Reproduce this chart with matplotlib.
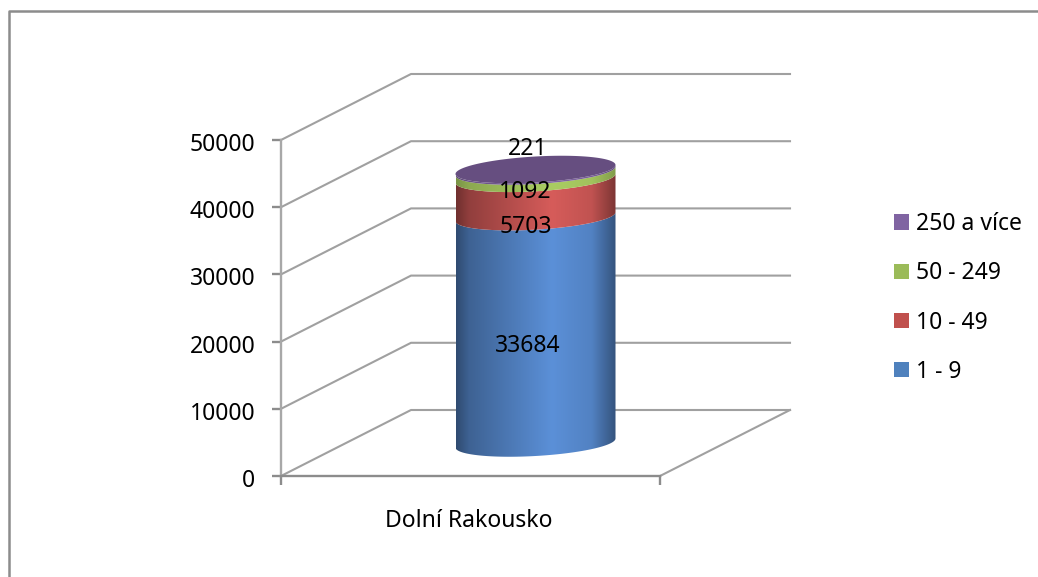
#!/usr/bin/env python
import numpy as np
import matplotlib
matplotlib.use('Agg')
import matplotlib.pyplot as plt
from matplotlib.patches import Patch, Polygon
from matplotlib.transforms import ScaledTranslation

category = 'Dolní Rakousko'
series_names = ['1 - 9', '10 - 49', '50 - 249', '250 a více']
series_values = [33684, 5703, 1092, 221]
y_ticks = [0, 10000, 20000, 30000, 40000, 50000]

W, H = 1038, 577
GREY = '#8c8c8c'
GRID = '#a0a0a0'
side_colors = ['#5b90d8', '#d65c5a', '#aacd62', '#7f63a1']
legend_colors = ['#4f81bd', '#c0504d', '#9bbb59', '#8064a2']
top_color = '#664e80'

plt.rcParams['font.family'] = ['Noto Sans', 'DejaVu Sans']
plt.rcParams['font.size'] = 16.5

fig = plt.figure(figsize=(W / 100, H / 100), dpi=100)
# front plane of the fake 3d box
left, right, top, bottom = 281, 660, 140, 476
ax = fig.add_axes([left / W, 1 - bottom / H, (right - left) / W, (bottom - top) / H])
ax.set_xlim(0, 1)
ax.set_ylim(0, 50000)

px_x = 1 / (right - left)
px_y = 50000 / (bottom - top)
depth_x = 130 * px_x
depth_y = 66 * px_y

# chart border, only top and left are in the picture
fig.add_artist(plt.Line2D([9 / W, 9 / W, 1], [0, 1 - 11 / H, 1 - 11 / H], color=GREY, lw=1.8))

# walls
for v in y_ticks:
    ax.plot([0, depth_x, 1 + depth_x], [v, v + depth_y, v + depth_y], color=GRID, lw=1.5,
            clip_on=False, zorder=1)
ax.plot([1, 1 + depth_x], [0, depth_y], color=GRID, lw=1.5, clip_on=False, zorder=1)

for s in ['top', 'right']:
    ax.spines[s].set_visible(False)
for s in ['left', 'bottom']:
    ax.spines[s].set_color(GREY)
    ax.spines[s].set_linewidth(1.7)
ax.spines['left'].set_color('#a8a8a8')
ax.set_yticks(y_ticks)
ax.set_xticks([0.5])
ax.set_xticklabels([category])
ax.set_xticks([0, 1], minor=True)
ax.tick_params(axis='y', length=6.5, width=1.7, color=GREY, pad=12)
ax.tick_params(axis='x', which='major', length=0, pad=24)
ax.tick_params(axis='x', which='minor', length=6.5, width=1.7, color=GREY)
ax.patch.set_alpha(0)

# nudge tick labels a bit down and left
shift_y = ScaledTranslation(0, -2 / 100, fig.dpi_scale_trans)
for lab in ax.get_yticklabels():
    lab.set_transform(lab.get_transform() + shift_y)
shift_x = ScaledTranslation(-2 / 100, 0, fig.dpi_scale_trans)
for lab in ax.get_xticklabels():
    lab.set_transform(lab.get_transform() + shift_x)

# cylinder
cx = 0.5 + depth_x / 2
rx = 80 * px_x
ry = 13 * px_y
tilt = 4.5 * px_y
base = depth_y / 2


def rim(value, t):
    return cx + rx * np.cos(t), base + value + ry * np.sin(t) + tilt * np.cos(t)


shade = np.interp(np.linspace(0, 1, 200), [0, 0.08, 0.6, 0.85, 1], [0.52, 0.68, 1, 0.9, 0.58])
front = np.linspace(np.pi, 2 * np.pi, 100)
levels = np.concatenate([[0], np.cumsum(series_values)])

for i in range(len(series_values)):
    x0, y0 = rim(levels[i], front)
    x1, y1 = rim(levels[i + 1], front)
    outline = np.column_stack([np.r_[x0, x1[::-1]], np.r_[y0, y1[::-1]]])
    rgb = np.array(matplotlib.colors.to_rgb(side_colors[i]))
    # the thin rings keep their colour right up to the edges
    sh = np.sqrt(shade) if i >= 2 else shade
    img = sh[None, :, None] * rgb
    im = ax.imshow(img, extent=[cx - rx, cx + rx, 0, levels[-1] + depth_y], aspect='auto', zorder=3 + i)
    clip = Polygon(outline, closed=True, transform=ax.transData, fc='none', ec='none')
    im.set_clip_path(clip)

around = np.linspace(0, 2 * np.pi, 200)
xt, yt = rim(levels[-1], around)
ax.fill(xt, yt, color=top_color, zorder=8, lw=0)
ax.set_xlim(0, 1)
ax.set_ylim(0, 50000)

# data labels were moved by hand in the original, so they sit off centre
label_offsets = [(-8, -16), (-10, -30), (-10, -17), (-8, 21)]
for i, v in enumerate(series_values):
    mid = (levels[i] + levels[i + 1]) / 2
    ax.annotate(str(v), (cx, base + mid), xytext=(label_offsets[i][0] / 1.389, label_offsets[i][1] / 1.389),
                textcoords='offset points', ha='center', va='center', color='black', zorder=10)

handles = [Patch(facecolor=c, edgecolor='none', label=n) for c, n in zip(legend_colors, series_names)]
fig.legend(handles=handles[::-1], loc='center left', bbox_to_anchor=(894 / W, 1 - 298 / H),
           frameon=False, borderpad=0, borderaxespad=0, labelspacing=1.1,
           handlelength=0.66, handleheight=0.66, handletextpad=0.3)

fig.savefig('out.png', dpi=100)
